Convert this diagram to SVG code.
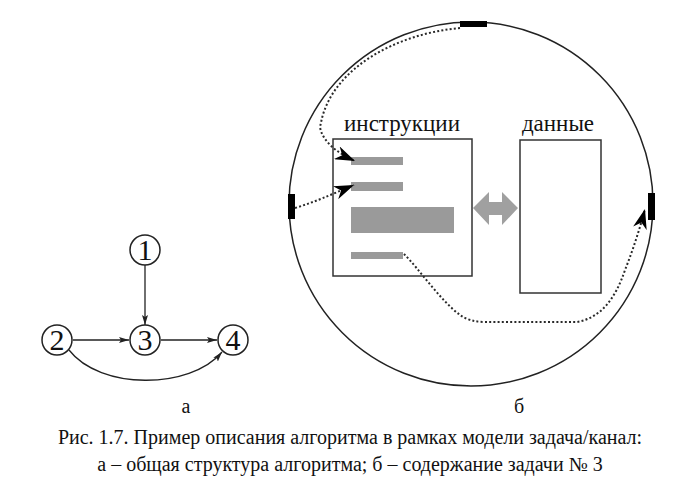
<svg xmlns="http://www.w3.org/2000/svg" width="700" height="498" viewBox="0 0 700 498">
<defs>
<style>
text{font-family:"Liberation Serif","Times New Roman",serif;fill:#111}
.node circle{fill:#fff;stroke:#222;stroke-width:1.5}
.edge{fill:none;stroke:#222;stroke-width:1.3}
.dot{fill:none;stroke:#2a2a2a;stroke-width:2;stroke-dasharray:2 2.2}
.box{fill:#fff;stroke:#333;stroke-width:1.5}
.bar{fill:#9a9a9a}
.port{fill:#000}
</style>
<marker id="ah" viewBox="0 0 10 6" refX="10" refY="3" markerWidth="10" markerHeight="6" markerUnits="userSpaceOnUse" orient="auto">
<path d="M0,0 L10,3 L0,6 L2,3 Z" fill="#222"/>
</marker>
<marker id="big" viewBox="0 0 20 14" refX="20" refY="7" markerWidth="20" markerHeight="14" markerUnits="userSpaceOnUse" orient="auto">
<path d="M0,0 L20,7 L0,14 L6,7 Z" fill="#000"/>
</marker>
</defs>

<g id="node1" class="node"><circle cx="145" cy="250" r="15"/><text x="145" y="260" font-size="30" text-anchor="middle">1</text></g>
<g id="node2" class="node"><circle cx="57" cy="340" r="15"/><text x="57" y="350" font-size="30" text-anchor="middle">2</text></g>
<g id="node3" class="node"><circle cx="145" cy="340" r="15"/><text x="145" y="350" font-size="30" text-anchor="middle">3</text></g>
<g id="node4" class="node"><circle cx="233" cy="340" r="15"/><text x="233" y="350" font-size="30" text-anchor="middle">4</text></g>

<g id="task">
<circle cx="471" cy="204" r="182" fill="none" stroke="#222" stroke-width="1.5"/>
<rect class="port" x="460" y="21" width="27" height="6"/>
<rect class="port" x="288" y="194" width="7" height="25"/>
<rect class="port" x="648" y="193" width="7" height="27"/>
</g>

<g id="instructions">
<rect class="box" x="333" y="139" width="139" height="137"/>
<rect class="bar" x="351" y="157" width="52" height="8"/>
<rect class="bar" x="351" y="182" width="52" height="9"/>
<rect class="bar" x="351" y="207" width="103" height="26"/>
<rect class="bar" x="351" y="252" width="52" height="7"/>
<text x="402" y="131" font-size="23" text-anchor="middle">инструкции</text>
</g>

<g id="exchange">
<polygon fill="#a0a0a0" points="473,208 489,192 489,202 502,202 502,192 518,208 502,225 502,215 489,215 489,225"/>
</g>

<g id="data">
<rect class="box" x="520" y="140" width="81" height="153"/>
<text x="558" y="131" font-size="23" text-anchor="middle">данные</text>
</g>

<g id="connectors">
<line class="edge" x1="145" y1="265" x2="145" y2="325" marker-end="url(#ah)"/>
<line class="edge" x1="73" y1="340" x2="129" y2="340" marker-end="url(#ah)"/>
<line class="edge" x1="161" y1="340" x2="217" y2="340" marker-end="url(#ah)"/>
<path class="edge" d="M69,350 C100,390 190,390 222,352" marker-end="url(#ah)"/>
<path class="dot" d="M460,28 C395,34 335,68 322,118 L320,127 C322,140 335,152 355,161" marker-end="url(#big)"/>
<path class="dot" d="M295,208 C315,202 330,195 354,185" marker-end="url(#big)"/>
<path class="dot" d="M404,254 C420,270 440,300 460,315 Q470,322 485,322 L577,322 C600,318 615,300 625,270 C633,250 640,228 645,209" marker-end="url(#big)"/>
</g>

<g id="labels">
<text x="186" y="413" font-size="20" text-anchor="middle">а</text>
<text x="519" y="413" font-size="20" text-anchor="middle">б</text>
<text x="350" y="444" font-size="20" text-anchor="middle">Рис. 1.7. Пример описания алгоритма в рамках модели задача/канал:</text>
<text x="350" y="471" font-size="20" text-anchor="middle">а – общая структура алгоритма; б – содержание задачи № 3</text>
</g>
</svg>
